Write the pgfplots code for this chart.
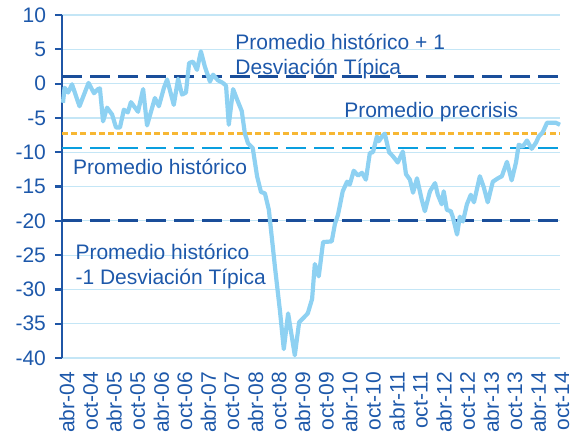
\documentclass[border=0pt]{standalone}
\usepackage{pgfplots}
\pgfplotsset{compat=1.18}
\usepackage{fontspec}
\setmainfont{Liberation Sans}
\definecolor{txtblue}{HTML}{1D58AA}
\definecolor{axblue}{HTML}{1F56A6}
\definecolor{navy}{HTML}{1A4E9A}
\definecolor{azure}{HTML}{0A9FDF}
\definecolor{gold}{HTML}{F7B733}
\definecolor{linecol}{HTML}{8ED1F2}
\definecolor{gridcol}{HTML}{C4E6F6}
\begin{document}
\begin{tikzpicture}
\begin{axis}[
  at={(0,0)}, anchor=south west,
  scale only axis, width=249pt, height=171.5pt,
  xmin=-0.25, xmax=126.5, ymin=-40, ymax=10,
  xtick={0,6,...,126},
  xticklabels={abr-04,oct-04,abr-05,oct-05,abr-06,oct-06,abr-07,oct-07,abr-08,oct-08,abr-09,oct-09,abr-10,oct-10,abr-11,oct-11,abr-12,oct-12,abr-13,oct-13,abr-14,oct-14},
  ytick={-40,-35,...,10},
  axis y line*=left, axis x line*=bottom,
  x axis line style={draw=gridcol, line width=0.6pt, -},
  y axis line style={draw=axblue, line width=1.3pt, -},
  ymajorgrids, grid style={draw=gridcol, line width=0.6pt},
  tick align=outside,
  major tick length=3.5pt,
  y tick style={draw=axblue, line width=1.1pt},
  x tick style={draw=none},
  /pgf/number format/assume math mode=true,
  tick label style={font=\fontsize{10.5}{12}\selectfont, text=txtblue},
  y tick label style={xshift=-1pt},
  x tick label style={rotate=90, anchor=east, yshift=-2pt},
  clip=false,
]
\addplot[navy, line width=1.5pt, dash pattern=on 10pt off 4pt] coordinates {(-0.25,1) (126.5,1)};
\addplot[gold, line width=1.5pt, dash pattern=on 3pt off 1.6pt] coordinates {(-0.25,-7.2) (126.5,-7.2)};
\addplot[azure, line width=1.4pt, dash pattern=on 10pt off 4pt] coordinates {(-0.25,-9.4) (126.5,-9.4)};
\addplot[navy, line width=1.5pt, dash pattern=on 10pt off 4pt] coordinates {(-0.25,-20) (126.5,-20)};
\addplot[linecol, line width=2.1pt, line join=round] coordinates {
(0,-2.8) (0.4,-0.6) (1.3,-1.3) (2.3,-0.1) (4.2,-3.3) (6.5,0.1) (7.9,-1.4) (8.9,-0.8) (9.4,-0.7)
(10.2,-5.5) (11.2,-3.5) (12.5,-4.5) (13.5,-6.4) (14.5,-6.4) (15.5,-3.8) (16.5,-4.2) (17.3,-2.7)
(19.1,-4.1) (20.4,-0.8) (21.4,-6.1) (23.4,-2.1) (24.4,-3.3) (25.7,-0.6) (26.5,0.6) (28.2,-3.1)
(29.3,0.7) (30.3,-1.6) (31.3,-1.3) (32.1,3.0) (33.1,3.2) (34.1,2.0) (35.1,4.7) (36.1,2.5)
(37.4,0.3) (38.2,1.3) (39.4,0.5) (40.7,0.1) (41.5,-0.3) (42.2,-6.0) (43.3,-0.8) (44.3,-2.3)
(45.5,-4.0) (46.3,-7.3) (47.1,-8.7) (48.3,-9.4) (49.4,-13.5) (50.4,-15.8) (51.4,-16.0) (52.4,-18.4)
(54.0,-27) (55.2,-33) (56.2,-38.7) (57.3,-33.5) (59.0,-39.6) (60.1,-34.8) (62.3,-33.5) (63.4,-31.4)
(64.1,-26.3) (65.1,-28.1) (66.2,-23.1) (68.4,-23.0) (69.2,-20.5) (70.0,-19.1) (71.2,-15.7)
(72.3,-14.3) (73.0,-14.7) (74.0,-12.7) (75.1,-13.4) (76.1,-13.0) (77.1,-14.0) (78.1,-10.1)
(78.9,-10.0) (79.9,-7.7) (80.4,-8.4) (81.2,-7.7) (81.9,-7.3) (83.0,-10.0) (84.0,-10.6) (85.2,-11.5)
(86.5,-9.9) (87.3,-13.2) (88.3,-14.0) (89.1,-15.9) (90.1,-13.8) (91.3,-16.9) (92.1,-18.6)
(93.4,-15.7) (94.7,-14.5) (95.4,-16.2) (96.4,-17.6) (96.9,-15.7) (97.7,-18.4) (98.7,-18.6)
(99.2,-19.4) (100.3,-22) (101.0,-19.4) (101.8,-20.1) (102.8,-17.6) (103.8,-16.2) (104.6,-17.3)
(106.1,-13.5) (107.1,-15.1) (108.1,-17.3) (109.4,-14.3) (110.7,-13.8) (111.7,-13.5) (113.0,-11.4)
(114.2,-14.1) (115.3,-11.5) (116.0,-8.9) (117.0,-9.2) (118.1,-8.3) (119.3,-9.5) (120.4,-8.6)
(121.1,-7.7) (122.1,-7.1) (123.2,-5.7) (124.4,-5.7) (125.4,-5.7) (126.5,-6.0)
};
\node[anchor=west, align=left, inner sep=0pt, text=txtblue, font=\fontsize{10.5}{12.6}\selectfont] at (axis cs:43.8,4.0) {Promedio histórico + 1\\Desviación Típica};
\node[anchor=west, inner sep=0pt, text=txtblue, font=\fontsize{10.5}{12.6}\selectfont] at (axis cs:71.5,-4.1) {Promedio precrisis};
\node[anchor=west, inner sep=0pt, text=txtblue, font=\fontsize{10.5}{12.6}\selectfont] at (axis cs:2.5,-12.1) {Promedio histórico};
\node[anchor=west, align=left, inner sep=0pt, text=txtblue, font=\fontsize{10.5}{12.6}\selectfont] at (axis cs:3.1,-26.6) {Promedio histórico\\-1 Desviación Típica};
\end{axis}
\pgfresetboundingbox
\useasboundingbox (-31pt,-38.5pt) rectangle (257.5pt,179pt);
\end{tikzpicture}
\end{document}
